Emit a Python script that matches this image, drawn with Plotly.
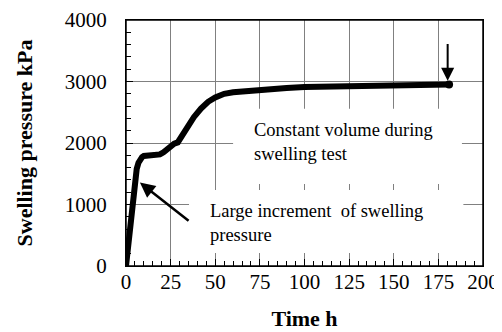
import plotly.graph_objects as go

time_h = [0, 1, 2, 3, 4, 5, 6, 7, 8, 9, 10, 13, 16, 19, 21, 23, 25, 27, 29, 31, 34, 38, 42, 46, 50,
          55, 60, 65, 70, 75, 80, 85, 90, 100, 110, 120, 130, 140, 150, 160, 170, 175, 181]
pressure_kpa = [0, 280, 600, 900, 1200, 1420, 1580, 1680, 1740, 1770, 1790, 1805, 1810, 1815, 1850, 1900,
                1960, 1990, 2010, 2100, 2250, 2420, 2560, 2670, 2740,
                2800, 2825, 2840, 2850, 2860, 2870, 2880, 2895, 2910, 2915, 2920, 2925, 2928, 2930,
                2935, 2940, 2945, 2950]

x_ticks = [0, 25, 50, 75, 100, 125, 150, 175, 200]
y_ticks = [0, 1000, 2000, 3000, 4000]

note_constant = "Constant volume during<br>swelling test"
note_large = "Large increment  of swelling<br>pressure"

FONT = "'Liberation Serif', 'Times New Roman', serif"

fig = go.Figure()
fig.add_trace(go.Scatter(x=time_h, y=pressure_kpa, mode="lines",
                         line=dict(color="black", width=6), showlegend=False))
fig.add_trace(go.Scatter(x=[time_h[-1]], y=[pressure_kpa[-1]], mode="markers",
                         marker=dict(color="black", size=8), showlegend=False))

# white text boxes masking the grid
fig.add_shape(type="rect", x0=60, x1=188.2, y0=1335, y1=2556, fillcolor="white",
              line=dict(width=0), layer="above")
fig.add_shape(type="rect", x0=35.3, x1=189, y0=212, y1=1237, fillcolor="white",
              line=dict(width=0), layer="above")
# plot frame
fig.add_shape(type="rect", xref="paper", yref="paper", x0=0, x1=1, y0=0, y1=1,
              line=dict(color="black", width=1.5), fillcolor="rgba(0,0,0,0)", layer="above")

fig.add_annotation(x=70.6, y=2010, xref="x", yref="y", text=note_constant, showarrow=False,
                   xanchor="left", yanchor="middle", align="left",
                   font=dict(family=FONT, size=18.5, color="black"))
fig.add_annotation(x=45.9, y=692, xref="x", yref="y", text=note_large, showarrow=False,
                   xanchor="left", yanchor="middle", align="left",
                   font=dict(family=FONT, size=18.5, color="black"))

fig.add_annotation(x=7.8, y=1356, ax=35.9, ay=716, xref="x", yref="y", axref="x", ayref="y",
                   text="", showarrow=True, arrowhead=2, arrowsize=1.2, arrowwidth=2.5,
                   arrowcolor="black")
fig.add_annotation(x=180.2, y=3011, ax=180.2, ay=3635, xref="x", yref="y", axref="x", ayref="y",
                   text="", showarrow=True, arrowhead=2, arrowsize=1.3, arrowwidth=2,
                   arrowcolor="black")

fig.update_xaxes(range=[x_ticks[0], x_ticks[-1]], tickmode="linear", tick0=x_ticks[0],
                 dtick=x_ticks[1] - x_ticks[0],
                 automargin=False, ticklabeloverflow="allow",
                 showgrid=True, gridcolor="#808080", gridwidth=1, zeroline=False,
                 showline=True, linecolor="black", linewidth=1, mirror=True,
                 ticks="inside", ticklen=7, tickcolor="black",
                 minor=dict(dtick=5, ticks="inside", ticklen=5, tickcolor="black", showgrid=False),
                 tickfont=dict(family=FONT, size=21, color="black"),
                 title=dict(text="<b>Time h</b>", font=dict(family=FONT, size=22, color="black"),
                            standoff=17),
                 ticklabelstandoff=-3)
fig.update_yaxes(range=[y_ticks[0], y_ticks[-1]], tickmode="linear", tick0=y_ticks[0],
                 dtick=y_ticks[1] - y_ticks[0],
                 automargin=False, ticklabeloverflow="allow",
                 showgrid=True, gridcolor="#808080", gridwidth=1, zeroline=False,
                 showline=True, linecolor="black", linewidth=1, mirror=True,
                 ticks="inside", ticklen=7, tickcolor="black",
                 minor=dict(dtick=200, ticks="inside", ticklen=5, tickcolor="black", showgrid=False),
                 tickfont=dict(family=FONT, size=21, color="black"),
                 title=dict(text="<b>Swelling pressure kPa</b>",
                            font=dict(family=FONT, size=22, color="black"), standoff=26),
                 ticklabelstandoff=14)

# page body adds an 8px offset, so the figure is 8px smaller than the window
fig.update_layout(width=494, height=324, margin=dict(l=118, r=19, t=12, b=66),
                  paper_bgcolor="white", plot_bgcolor="white",
                  font=dict(family=FONT, color="black"))

fig.write_html("out.html")
